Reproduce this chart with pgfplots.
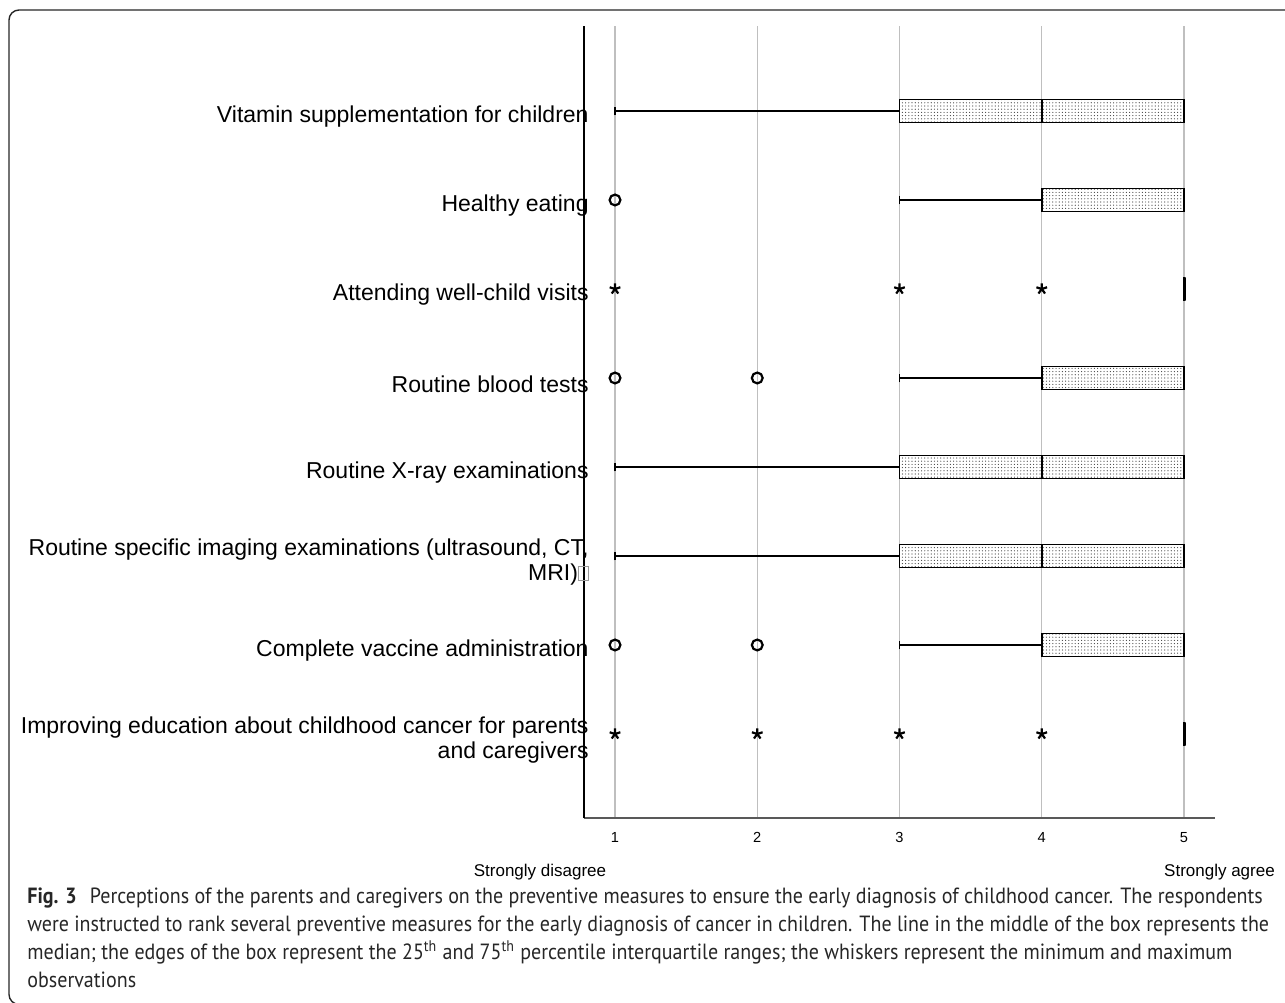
\documentclass[border=0pt]{standalone}
\usepackage{fontspec}
\setmainfont{Liberation Sans}
\newfontfamily\capfont[FakeStretch=0.91]{PT Sans}
\usepackage{pgfplots}
\pgfplotsset{compat=1.18}
\usepgfplotslibrary{statistics}
\usetikzlibrary{patterns.meta}
\newcommand\tofu{{\color{black!40}\setlength\fboxsep{0pt}\setlength\fboxrule{0.4pt}\fbox{\rule{0pt}{7pt}\hspace{4.5pt}}}}
\begin{document}
\begin{tikzpicture}[x=1pt,y=1pt]
\draw[line width=0.7pt, rounded corners=5pt, black!85] (660,496) -- (4.5,496) -- (4.5,-1.2) -- (660,-1.2);
\begin{axis}[
  at={(292pt,92pt)}, anchor=south west, scale only axis,
  width=315.5pt, height=396pt,
  xmin=0.782, xmax=5.218, ymin=0.056, ymax=8.955,
  axis x line*=bottom, axis y line*=left,
  x axis line style={-, draw=black!65, line width=0.7pt},
  y axis line style={-, draw=black, line width=0.7pt},
  xtick={1,2,3,4,5}, ytick={1,2,3,4,5,6,7,8},
  xmajorgrids, major grid style={black!25, line width=0.6pt},
  tick style={draw=none},
  /pgf/number format/assume math mode=true,
  yticklabels={{Improving education about childhood cancer for parents\\and caregivers},
    {Complete vaccine administration},
    {Routine specific imaging examinations (ultrasound, CT,\\MRI)\tofu},
    {Routine X-ray examinations},
    {Routine blood tests},
    {Attending well-child visits},
    {Healthy eating},
    {Vitamin supplementation for children}},
  yticklabel style={align=right, font=\fontsize{11.5}{12.5}\selectfont, inner sep=0pt, anchor=east, xshift=2.5pt, yshift=-3pt},
  xticklabel style={font=\fontsize{7.3}{8}\selectfont, inner sep=0pt, anchor=north, yshift=-7pt},
  boxplot/box extend=0.26, boxplot/whisker extend=0.1,
  boxplot/every median/.style={line width=1.2pt},
  every axis plot/.append style={line width=0.8pt},
]
\addplot[draw=black, pattern={Dots[distance=1.6pt, radius=0.3pt]}, pattern color=black!75,
  boxplot prepared={draw position=8, lower whisker=1, lower quartile=3, median=4, upper quartile=5, upper whisker=5}] coordinates {};
\addplot[draw=black, pattern={Dots[distance=1.6pt, radius=0.3pt]}, pattern color=black!75,
  boxplot prepared={draw position=7, lower whisker=3, lower quartile=4, median=4, upper quartile=5, upper whisker=5}] coordinates {};
\addplot[draw=black, line width=1.5pt, boxplot prepared={draw position=6, lower whisker=5, lower quartile=5, median=5, upper quartile=5, upper whisker=5}] coordinates {};
\addplot[draw=black, pattern={Dots[distance=1.6pt, radius=0.3pt]}, pattern color=black!75,
  boxplot prepared={draw position=5, lower whisker=3, lower quartile=4, median=4, upper quartile=5, upper whisker=5}] coordinates {};
\addplot[draw=black, pattern={Dots[distance=1.6pt, radius=0.3pt]}, pattern color=black!75,
  boxplot prepared={draw position=4, lower whisker=1, lower quartile=3, median=4, upper quartile=5, upper whisker=5}] coordinates {};
\addplot[draw=black, pattern={Dots[distance=1.6pt, radius=0.3pt]}, pattern color=black!75,
  boxplot prepared={draw position=3, lower whisker=1, lower quartile=3, median=4, upper quartile=5, upper whisker=5}] coordinates {};
\addplot[draw=black, pattern={Dots[distance=1.6pt, radius=0.3pt]}, pattern color=black!75,
  boxplot prepared={draw position=2, lower whisker=3, lower quartile=4, median=4, upper quartile=5, upper whisker=5}] coordinates {};
\addplot[draw=black, line width=1.5pt, boxplot prepared={draw position=1, lower whisker=5, lower quartile=5, median=5, upper quartile=5, upper whisker=5}] coordinates {};
% outliers
\addplot[only marks, mark=o, mark size=2.7pt, mark options={line width=1.1pt, black}] coordinates {(1,7) (1,5) (2,5) (1,2) (2,2)};
\addplot[only marks, mark=star, mark size=2.8pt, mark options={line width=1.1pt, black}] coordinates {(1,6) (3,6) (4,6) (1,1) (2,1) (3,1) (4,1)};
\end{axis}
\node[font=\fontsize{8.5}{10}\selectfont] at (270,65) {Strongly disagree};
\node[font=\fontsize{8.5}{10}\selectfont] at (609.75,65) {Strongly agree};
\begin{scope}[every node/.style={anchor=base west, inner sep=0pt, font=\capfont\fontsize{11}{12}\selectfont, text=black!85}]
\node at (13.5,49.5) {\textbf{Fig. 3}\hspace{0.6em}Perceptions of the parents and caregivers on the preventive measures to ensure the early diagnosis of childhood cancer. The respondents};
\node at (13.5,35.5) {were instructed to rank several preventive measures for the early diagnosis of cancer in children. The line in the middle of the box represents the};
\node at (13.5,21.5) {median; the edges of the box represent the 25\textsuperscript{th} and 75\textsuperscript{th} percentile interquartile ranges; the whiskers represent the minimum and maximum};
\node at (13.5,7.5) {observations};
\end{scope}
\pgfresetboundingbox
\path[use as bounding box] (0,0) rectangle (642.5,501);
\end{tikzpicture}
\end{document}
